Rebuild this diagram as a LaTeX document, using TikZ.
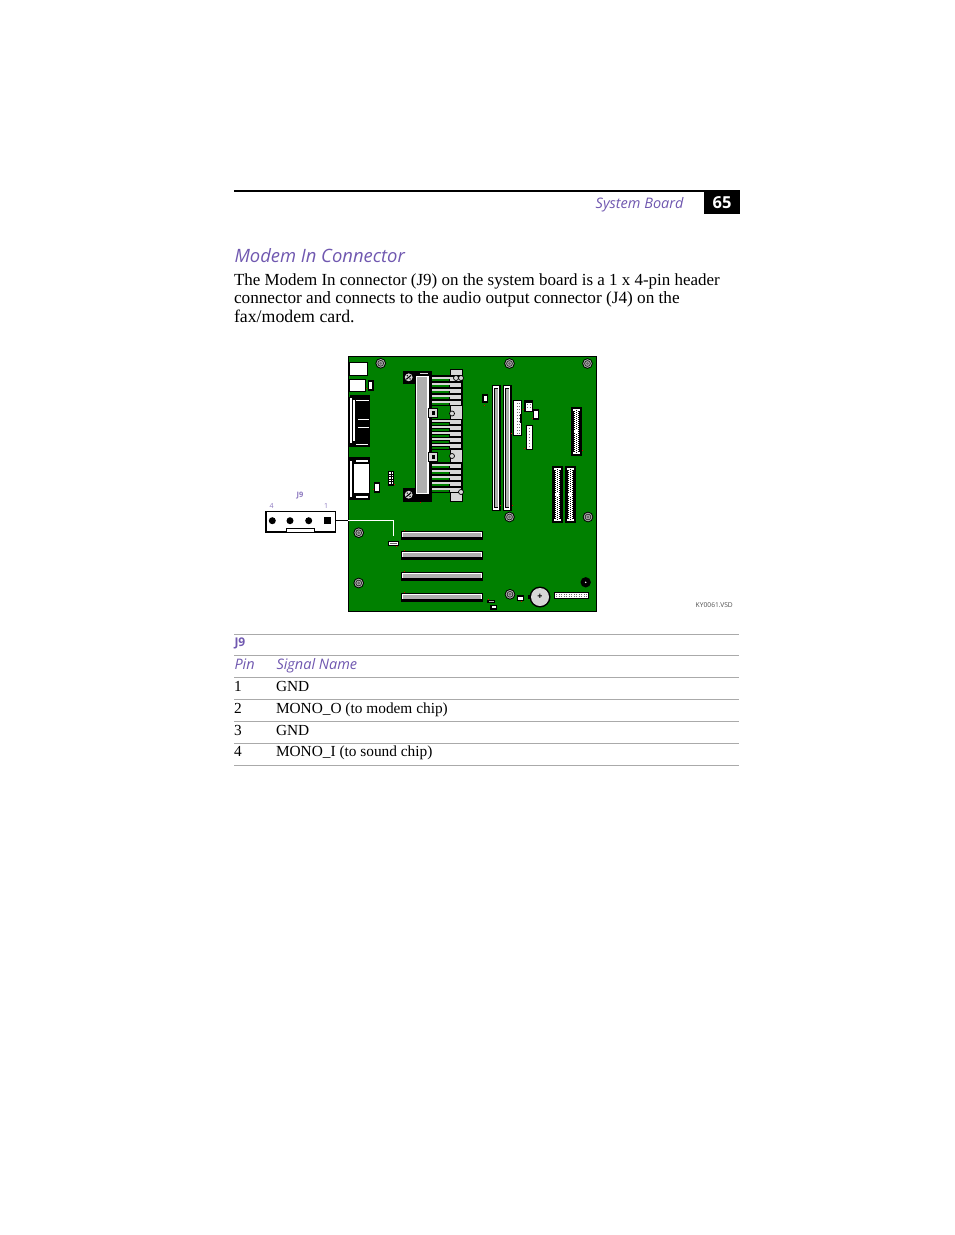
\documentclass[tikz,border=0pt]{standalone}
\usepackage{fontspec}
\setmainfont{Liberation Serif}
\newfontfamily\sansf{Open Sans}
\usetikzlibrary{calc}
\definecolor{pcbgreen}{RGB}{0,128,0}
\definecolor{headviolet}{RGB}{112,88,176}
\definecolor{rulegray}{RGB}{170,170,170}
\definecolor{chipgray}{RGB}{175,175,175}
\definecolor{finwhite}{RGB}{215,215,215}
\tikzset{
  txt/.style={anchor=base west,inner sep=0,outer sep=0,text=black,font=\fontsize{16.95}{18}\selectfont},
  vio/.style={anchor=base west,inner sep=0,outer sep=0,text=headviolet},
  cell/.style={anchor=base west,inner sep=0,outer sep=0,text=black,font=\fontsize{15.35}{18}\selectfont},
  tabrule/.style={draw=rulegray,line width=0.9pt},
  pic lbl/.style={inner sep=0,outer sep=0,text=headviolet!80,font=\sansf\fontsize{7}{8}\selectfont},
}
\newcommand{\screw}[1]{\fill[black] (#1) circle (5.3);\fill[chipgray] (#1) circle (4.3);\draw[black!85,line width=.7pt] (#1) circle (2.9);\fill[chipgray!60!black] (#1) circle (1.6);}
\newcommand{\slotv}[1]{\fill[black] (#1,385) rectangle ++(8.5,125.5);\fill[white] (#1+.8,386) rectangle ++(6.6,123.5);\fill[black] (#1+2,388) rectangle ++(4.2,119.5);\fill[chipgray] (#1+2.8,389) rectangle ++(2.8,117.5);}
\newcommand{\pcislot}[1]{\fill[black] (401,#1) rectangle (483,#1+9);\fill[white] (402,#1+.8) rectangle (482,#1+6.4);\fill[chipgray] (403,#1+2) rectangle (481,#1+5.6);\fill[red!85!black] (403.5,#1-1) rectangle ++(1,1);}
\newcommand{\ide}[3]{\fill[black] (#1,#2) rectangle ++(10.5,#3);
 \fill[white] (#1+1.5,#2+2) rectangle ++(7.5,2);\fill[white] (#1+1.5,#2+#3-4) rectangle ++(7.5,2);
 \fill[white] (#1+4,#2+2) rectangle ++(2.6,#3-4);
 \foreach \i in {0,2,...,#3}{\ifdim\i pt<\dimexpr#3pt-6pt\relax\fill[black] (#1+5,#2+3+\i) rectangle ++(.6,.9);\fill[white] (#1+3,#2+3+\i) rectangle ++(1,.9);\fill[white] (#1+6.6,#2+3+\i) rectangle ++(1,.9);\fi}
 \fill[white] (#1+2.5,#2+#3/2-1.5) rectangle ++(3.5,3);}
\newcommand{\fins}[1]{\fill[black] (430,#1-1) rectangle (461.5,#1+30);
 \foreach \k in {0,1,2,3,4}{\fill[pcbgreen] (432,#1+\k*6+3.4) rectangle (449,#1+\k*6+5.3);\fill[finwhite] (432,#1+\k*6+.6) rectangle (460.5,#1+\k*6+2.9);\fill[finwhite] (450,#1+\k*6+.6) rectangle (460.5,#1+\k*6+4.6);}}
\newcommand{\bolt}[1]{\fill[finwhite] (#1) circle (3.9);\draw[black,line width=1.1pt] ($(#1)+(-2.4,2)$) -- ($(#1)+(2.4,-2)$);\fill[black] ($(#1)+(-1.4,-1.6)$) circle (.8);\fill[black] ($(#1)+(1.4,1.6)$) circle (.8);}
\begin{document}
\begin{tikzpicture}[x=1pt,y=-1pt]
\useasboundingbox (0,0) rectangle (954,1235);
\fill[white] (0,0) rectangle (954,1235);
% page header
\fill[black] (234,190.3) rectangle (740,192.2);
\fill[black] (704,191) rectangle (740,214);
\node[anchor=base,inner sep=0,text=white,font=\sansf\bfseries\fontsize{16.5}{18}\selectfont] (pg) at (722,208) {65};
\node[vio,anchor=base east,font=\sansf\itshape\fontsize{14.5}{16}\selectfont] (sec) at (683.5,208) {System Board};
\node[vio,font=\sansf\itshape\fontsize{18.4}{20}\selectfont] (head) at (234.5,262) {Modem In Connector};
\node[txt] (p1) at (234,285) {The Modem In connector (J9) on the system board is a 1 x 4-pin header};
\node[txt,font=\fontsize{17.22}{18}\selectfont] (p2) at (234,303.2) {connector and connects to the audio output connector (J4) on the};
\node[txt,font=\fontsize{17.8}{18}\selectfont] (p3) at (234,322) {fax/modem card.};
% board
\fill[black] (348,356) rectangle (597,612);
\fill[pcbgreen] (349,357) rectangle (596,611);
% left ports
\fill[black] (349,362) rectangle (368,376);\fill[white] (349.6,363) rectangle (367,375);
\fill[black] (349,379) rectangle (366,392);\fill[white] (349.6,380) rectangle (364.6,391);
\fill[black] (367.5,380) rectangle (373.5,391);\fill[white] (369,382) rectangle (372,389);
\fill[red!85!black] (366,387.5) rectangle ++(1.3,1.3);
% DB connector 1
\fill[black] (349,395) rectangle (370,447);
\fill[white] (350,398) rectangle (351.5,443);\fill[white] (353,400) rectangle (355,441);
\fill[white] (356,399.5) rectangle (368.5,401);\fill[white] (356,443.5) rectangle (368,445);
\fill[white] (358,419) rectangle (369,419.8);\fill[white] (358,427) rectangle (369,427.8);
\fill[pcbgreen] (349,395) rectangle (350,397);
% DB connector 2
\fill[black] (349,457) rectangle (370,500);
\fill[white] (350,461) rectangle (352,497);\fill[white] (354,464) rectangle (368.5,493);
\fill[white] (356,459.5) rectangle (368,461.5);\fill[white] (356,495.5) rectangle (368,497.5);
% small parts left
\fill[black] (374,482) rectangle (380,493);\fill[white] (375.2,484) rectangle (378.8,491);
\fill[red!85!black] (372.8,489) rectangle ++(1.2,1.2);
\fill[black] (388,471) rectangle (394,486);
\foreach \y in {472,474.5,477,479.5,482}{\fill[white] (389,\y) rectangle ++(1.6,1.5);\fill[white] (391.5,\y) rectangle ++(1.6,1.5);}
\fill[red!85!black] (394,484) rectangle ++(1.2,1.2);
% screws
\screw{380.7,363.3}\screw{509.5,363.5}\screw{587.5,363.5}\screw{509.5,517}\screw{588,517}\screw{358.7,532.7}\screw{358.7,583}\screw{510,594.3}
% CPU slot
\fill[black] (403,371) rectangle (415,384);\fill[black] (403,488) rectangle (415,502);
\bolt{408.7,377.3}\bolt{408.7,494.7}
\fill[black] (415,371) rectangle (432,502);
\fill[white] (415.5,376) rectangle (429,494);
\fill[chipgray] (417.3,377) rectangle (427,493);
\fill[finwhite] (420,372.5) rectangle (428,374);
\fill[black] (450,369) rectangle (463,502);
\fill[finwhite] (451,370) rectangle (462,500.5);
\fins{376}\fins{419.5}\fins{463}
\fill[black] (428,408) rectangle (438,418);\fill[finwhite] (429,409) rectangle (437,417);\fill[black] (431.5,411) rectangle (434.5,415);
\fill[black] (428,452) rectangle (438,462);\fill[finwhite] (429,453) rectangle (437,461);\fill[black] (431.5,455) rectangle (434.5,459);
\draw[black,line width=.7pt,fill=finwhite] (452,413.5) circle (2.5);\draw[black,line width=.7pt,fill=finwhite] (452,456) circle (2.5);\draw[black,line width=.7pt,fill=finwhite] (456,378) circle (2.5);\draw[black,line width=.7pt,fill=finwhite] (461,378) circle (2.5);\draw[black,line width=.7pt,fill=finwhite] (461,492) circle (2.5);
\fill[red!85!black] (419.5,502) rectangle ++(1.2,1.2);
% memory
\slotv{492}\slotv{503}
\fill[red!85!black] (500,505) rectangle ++(1.2,1.2);\fill[red!85!black] (511.5,505) rectangle ++(1.2,1.2);
\fill[black] (482,394) rectangle (488,403);\fill[white] (483.5,396) rectangle (486.5,401);
\fill[red!85!black] (484,405) rectangle ++(1.2,1.2);
% headers
\fill[black] (513,400) rectangle (522,436);\fill[white] (514,401) rectangle (521,435);
\foreach \y in {403,406,...,433}{\fill[black!55] (516.5,\y) rectangle ++(1,1);\fill[black!55] (519,\y) rectangle ++(1,1);}
\fill[black] (519.5,414) rectangle ++(1.5,9);
\fill[black] (524,400) rectangle (533,412);\fill[white] (525.5,402.5) rectangle (531.5,410.5);
\foreach \y in {404,406.5}{\fill[black!55] (527,\y) rectangle ++(1,1);\fill[black!55] (529.5,\y) rectangle ++(1,1);}
\fill[black] (533,409) rectangle (539,420);\fill[white] (534.3,411) rectangle (537.5,418);
\fill[black] (526,425) rectangle (533,450);\fill[white] (527,426) rectangle (532,449);
\foreach \y in {428,431,...,447}{\fill[black!55] (529,\y) rectangle ++(1,1);}
\fill[red!85!black] (522.5,409) rectangle ++(1.2,1.2);\fill[red!85!black] (531.5,418) rectangle ++(1.2,1.2);\fill[red!85!black] (511,433) rectangle ++(1.2,1.2);\fill[red!85!black] (524,448) rectangle ++(1.2,1.2);
% IDE
\ide{571.2}{407}{49}\ide{552}{466}{57}\ide{565}{466}{57}
\fill[red!85!black] (582,450) rectangle ++(1.2,1.2);
% PCI
\pcislot{531}\pcislot{551}\pcislot{572}\pcislot{593}
% J9 on board
\node[draw=black,fill=white,line width=1.1pt,minimum width=10pt,minimum height=4.4pt,inner sep=0,outer sep=0] (j9s) at (393.5,543.5) {};
\fill[black!60] (390,543) rectangle (397,544);
\fill[red!85!black] (395.5,546) rectangle ++(1.2,1.2);
% bottom parts
\fill[black] (487,600) rectangle (495,603.3);\fill[chipgray] (488.5,601) rectangle (493.5,602.3);
\fill[black] (490,605) rectangle (497,609.5);\fill[white] (491.5,606) rectangle (495.5,608.3);
\fill[red!85!black] (487.5,598.5) rectangle ++(1.2,1.2);
\fill[black] (517,595) rectangle (524,601);\fill[white] (518.2,596.8) rectangle (522.8,599.8);
\fill[red!85!black] (521,601) rectangle ++(1.2,1.2);
\fill[black] (540,597) circle (10.5);\fill[black] (527.5,595) rectangle (531,599);
\fill[finwhite] (540,597) circle (9);
\node[inner sep=0,text=black,font=\sansf\bfseries\fontsize{9}{9}\selectfont] (bat) at (540,597) {+};
\fill[black] (554,592) rectangle (589,599);\fill[white] (555,593) rectangle (588,598);
\foreach \x in {556,558.5,...,586}{\fill[black!55] (\x,594) rectangle ++(1,.9);\fill[black!55] (\x,596) rectangle ++(1,.9);}
\fill[black] (585.7,582.3) circle (5.2);\fill[white] (585.7,582.3) circle (.8);
% J9 enlarged
\node[draw=black,fill=white,line width=1.5pt,minimum width=69.5pt,minimum height=20pt,inner sep=0,outer sep=0] (j9) at (300.5,521.7) {};
\fill[black] (265,530.7) rectangle (336,533);
\draw[black,line width=1pt,fill=white] (286,532) -- (286,528.5) -- (314,528.5) -- (314,532);
\foreach \x in {272.3,290,308.7}{\fill[black] (\x,520.7) circle (3.5);}
\fill[black] (324,517) rectangle (331,524);
% leader
\coordinate (bend) at (393,520);
\coordinate (tip) at (393,536);
\draw[black,line width=1pt] (j9.east |- bend) -- (348,520);
\draw[white,line width=1pt] (348,520) -- (bend) -- (tip);
\node[pic lbl,font=\sansf\bfseries\fontsize{7.5}{8}\selectfont] (lj) at (300,496) {J9};
\node[pic lbl] (l4) at (271.7,505.7) {4};
\node[pic lbl] (l1) at (326,505.7) {1};
\node[pic lbl,text=black!70,font=\sansf\fontsize{6.7}{8}\selectfont] (vsd) at (714.3,605.3) {KY0061.VSD};
% table
\foreach \y in {634.5,655.7,677.3,699.3,721.3,743.3,765.5}{\draw[tabrule] (234,\y) -- (739,\y);}
\node[vio,font=\sansf\bfseries\fontsize{12}{13}\selectfont] (tj) at (234.5,646.5) {J9};
\node[vio,font=\sansf\itshape\fontsize{14.5}{15}\selectfont] (tp) at (234.5,669) {Pin};
\node[vio,font=\sansf\itshape\fontsize{14.5}{15}\selectfont] (ts) at (276.5,669) {Signal Name};
\node[cell] (a1) at (234,691) {1};\node[cell] (b1) at (276,691) {GND};
\node[cell] (a2) at (234,713) {2};\node[cell] (b2) at (276,713) {MONO\_O (to modem chip)};
\node[cell] (a3) at (234,735) {3};\node[cell] (b3) at (276,735) {GND};
\node[cell] (a4) at (234,756.5) {4};\node[cell] (b4) at (276,756.5) {MONO\_I (to sound chip)};
\end{tikzpicture}
\end{document}
